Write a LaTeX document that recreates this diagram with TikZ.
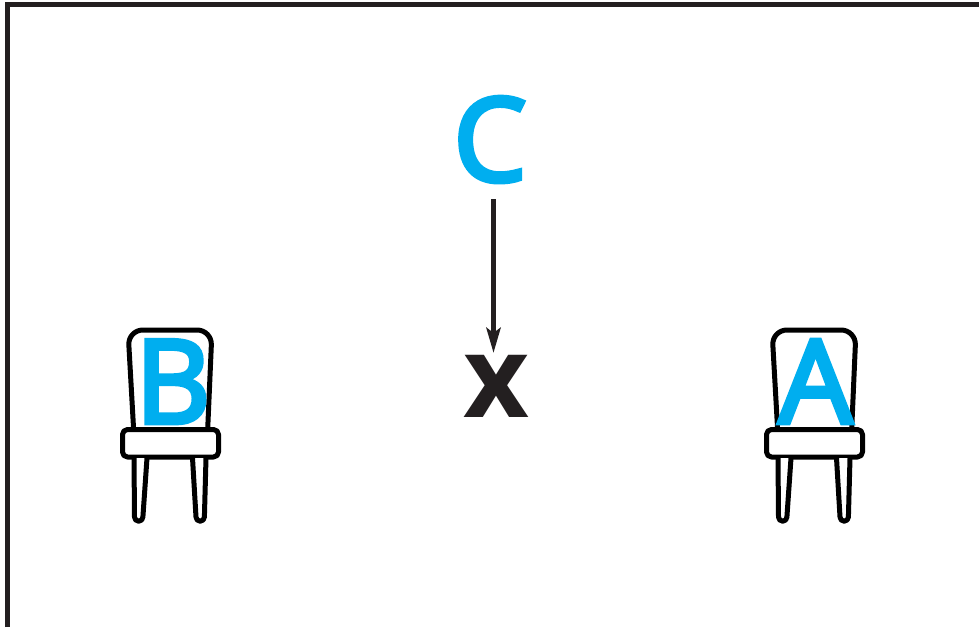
\documentclass[tikz,border=0pt]{standalone}
\usepackage{fontspec}
\setmainfont{Open Sans}
\newfontfamily\letterfont[FakeBold=4]{Open Sans}
\newfontfamily\crossfont{Open Sans}[BoldFont={* Bold}]
\usetikzlibrary{arrows.meta}
\definecolor{cyanink}{HTML}{00AEEF}
\definecolor{darkink}{HTML}{231F20}
\tikzset{
  letter/.style={inner sep=0pt,outer sep=0pt,anchor=base,text=cyanink,font=\fontsize{116}{116}\selectfont\letterfont},
  chairline/.style={draw=black,line width=5pt,line join=round,fill=white},
  frameline/.style={draw=darkink,line width=5pt,line join=miter},
  pointer/.style={draw=darkink,line width=5.2pt,-{Stealth[length=25pt,width=14pt,inset=5pt]}},
  chair/.pic={
    \path[chairline,rounded corners=15pt] (-35.5,445) -- (-42,330) -- (42,330) -- (37,445) -- cycle;
    \path[chairline,rounded corners=5pt] (-47.5,429.5) rectangle (48.5,457);
    \path[chairline] (-36,458) -- (-35.5,517) arc[start angle=180,end angle=360,radius=4.2pt] -- (-23,458);
    \path[chairline] (22.5,458) -- (26,517) arc[start angle=180,end angle=360,radius=4.2pt] -- (36,458);
  }
}
\begin{document}
\begin{tikzpicture}[x=1pt,y=-1pt]
\useasboundingbox (0,0) rectangle (979,627);
\draw[frameline] (7.5,627) -- (7.5,4.5) -- (979,4.5);
\pic at (170,0) {chair};
\pic at (814,0) {chair};
\node[letter] (B) at (173,423) {B};
\node[letter] (A) at (815.5,423) {A};
\node[letter] (C) at (490,181) {C};
\node[inner sep=0pt,outer sep=0pt,anchor=base,text=darkink,font=\fontsize{114}{114}\selectfont\crossfont\bfseries] (X) at (496,417) {x};
\coordinate (cfoot) at (493.5,199);
\coordinate (xtop) at (493.5,353);
\draw[pointer] (cfoot) -- (xtop);
\end{tikzpicture}
\end{document}
